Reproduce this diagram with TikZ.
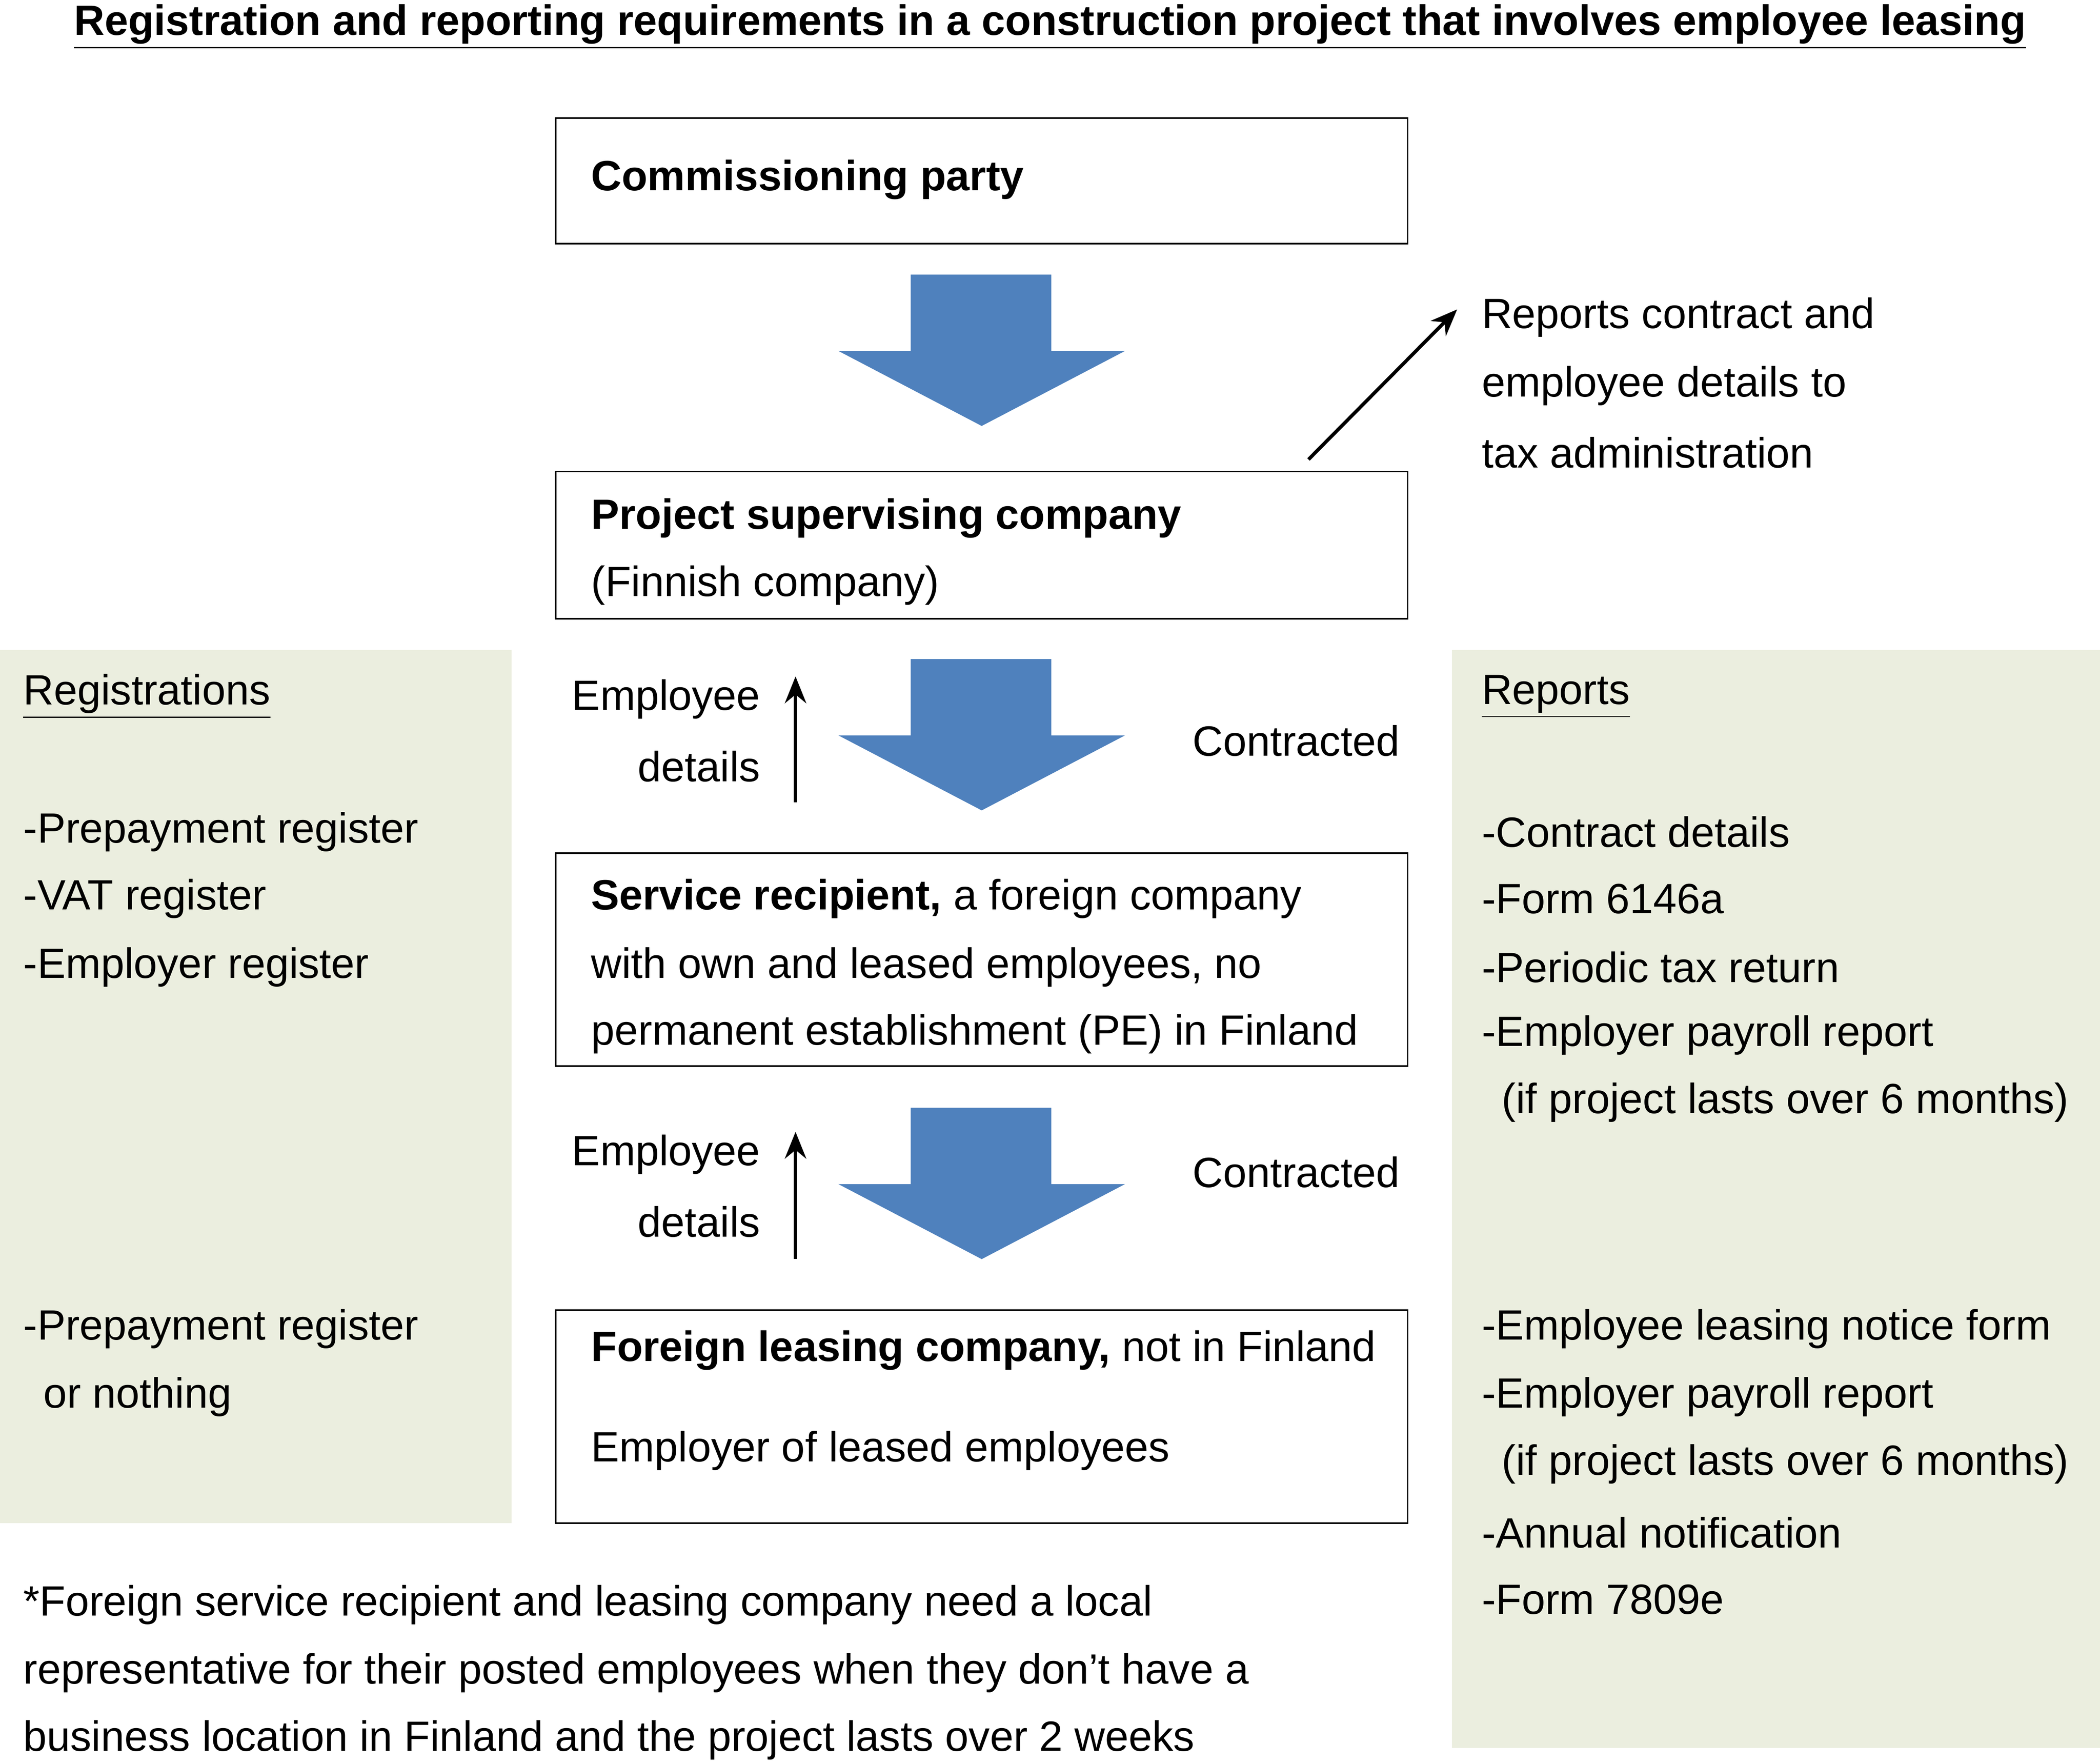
\documentclass[tikz,border=0pt]{standalone}
\usepackage{fontspec}
\setmainfont{Liberation Sans}
\usetikzlibrary{arrows.meta}
\definecolor{panelgreen}{HTML}{EBEEDF}
\definecolor{arrowblue}{HTML}{4F81BD}
\begin{document}
\begin{tikzpicture}[x=0.5pt,y=-0.5pt,
  every node/.style={font=\fontsize{15.8pt}{18pt}\selectfont, inner sep=0pt, yshift=-1.5pt},
  txt/.style={anchor=west},
  boxs/.style={draw, line width=0.6pt},
  thinarrow/.style={-{Stealth[length=10pt,width=8pt]}, line width=1.3pt}]
\useasboundingbox (0,0) rectangle (1568,1316);
\fill[panelgreen] (0,485) rectangle (382,1137);
\fill[panelgreen] (1084,485) rectangle (1568,1305);
\node (title) at (784,17) {\textbf{\underline{Registration and reporting requirements in a construction project that involves employee leasing}}};
% boxes
\draw[boxs] (415,88) rectangle (1051,182);
\node[txt] (b1) at (441,131) {\textbf{Commissioning party}};
\draw[boxs] (415,352) rectangle (1051,462);
\node[txt] (b2a) at (441,384) {\textbf{Project supervising company}};
\node[txt] (b2b) at (441,434) {(Finnish company)};
\draw[boxs] (415,637) rectangle (1051,796);
\node[txt] at (441,668) {\textbf{Service recipient,} a foreign company};
\node[txt] at (441,719) {with own and leased employees, no};
\node[txt] at (441,769) {permanent establishment (PE) in Finland};
\draw[boxs] (415,978) rectangle (1051,1137);
\node[txt] at (441,1005) {\textbf{Foreign leasing company,} not in Finland};
\node[txt] at (441,1080) {Employer of leased employees};
% big arrows
\foreach \t in {205,492,827}{
 \fill[arrowblue] (680,\t) -- (785,\t) -- (785,\t+57) -- (840,\t+57) -- (733,\t+113) -- (626,\t+57) -- (680,\t+57) -- cycle;
}
% diagonal
\coordinate (d1) at (977,340); \coordinate (d2) at (1088,228);
\draw[thinarrow] (d1) -- (d2);
\node[txt] at (1106,234) {Reports contract and};
\node[txt] at (1106,285) {employee details to};
\node[txt] at (1106,335) {tax administration};
% small arrows
\coordinate (s1a) at (594,596); \coordinate (s1b) at (594,502);
\draw[thinarrow] (s1a) -- (s1b);
\coordinate (s2a) at (594,937); \coordinate (s2b) at (594,842);
\draw[thinarrow] (s2a) -- (s2b);
\node[anchor=east] at (568,519) {Employee};
\node[anchor=east] at (568,569) {details};
\node[anchor=east] at (568,859) {Employee};
\node[anchor=east] at (568,909) {details};
\node[txt] at (890,550) {Contracted};
\node[txt] at (890,872) {Contracted};
% left
\node[txt] at (17,517) {\underline{Registrations}};
\node[txt] at (17,618) {-Prepayment register};
\node[txt] at (17,668) {-VAT register};
\node[txt] at (17,719) {-Employer register};
\node[txt] at (17,989) {-Prepayment register};
\node[txt] at (32,1040) {or nothing};
% right
\node[txt] at (1106,517) {\underline{Reports}};
\node[txt] at (1106,618) {-Contract details};
\node[txt] at (1106,668) {-Form 6146a};
\node[txt] at (1106,719) {-Periodic tax return};
\node[txt] at (1106,770) {-Employer payroll report};
\node[txt] at (1121,820) {(if project lasts over 6 months)};
\node[txt] at (1106,989) {-Employee leasing notice form};
\node[txt] at (1106,1040) {-Employer payroll report};
\node[txt] at (1121,1090) {(if project lasts over 6 months)};
\node[txt] at (1106,1141) {-Annual notification};
\node[txt] at (1106,1191) {-Form 7809e};
% footnote
\node[txt] at (17,1195) {*Foreign service recipient and leasing company need a local};
\node[txt] at (17,1246) {representative for their posted employees when they don’t have a};
\node[txt] at (17,1296) {business location in Finland and the project lasts over 2 weeks};
\end{tikzpicture}
\end{document}
